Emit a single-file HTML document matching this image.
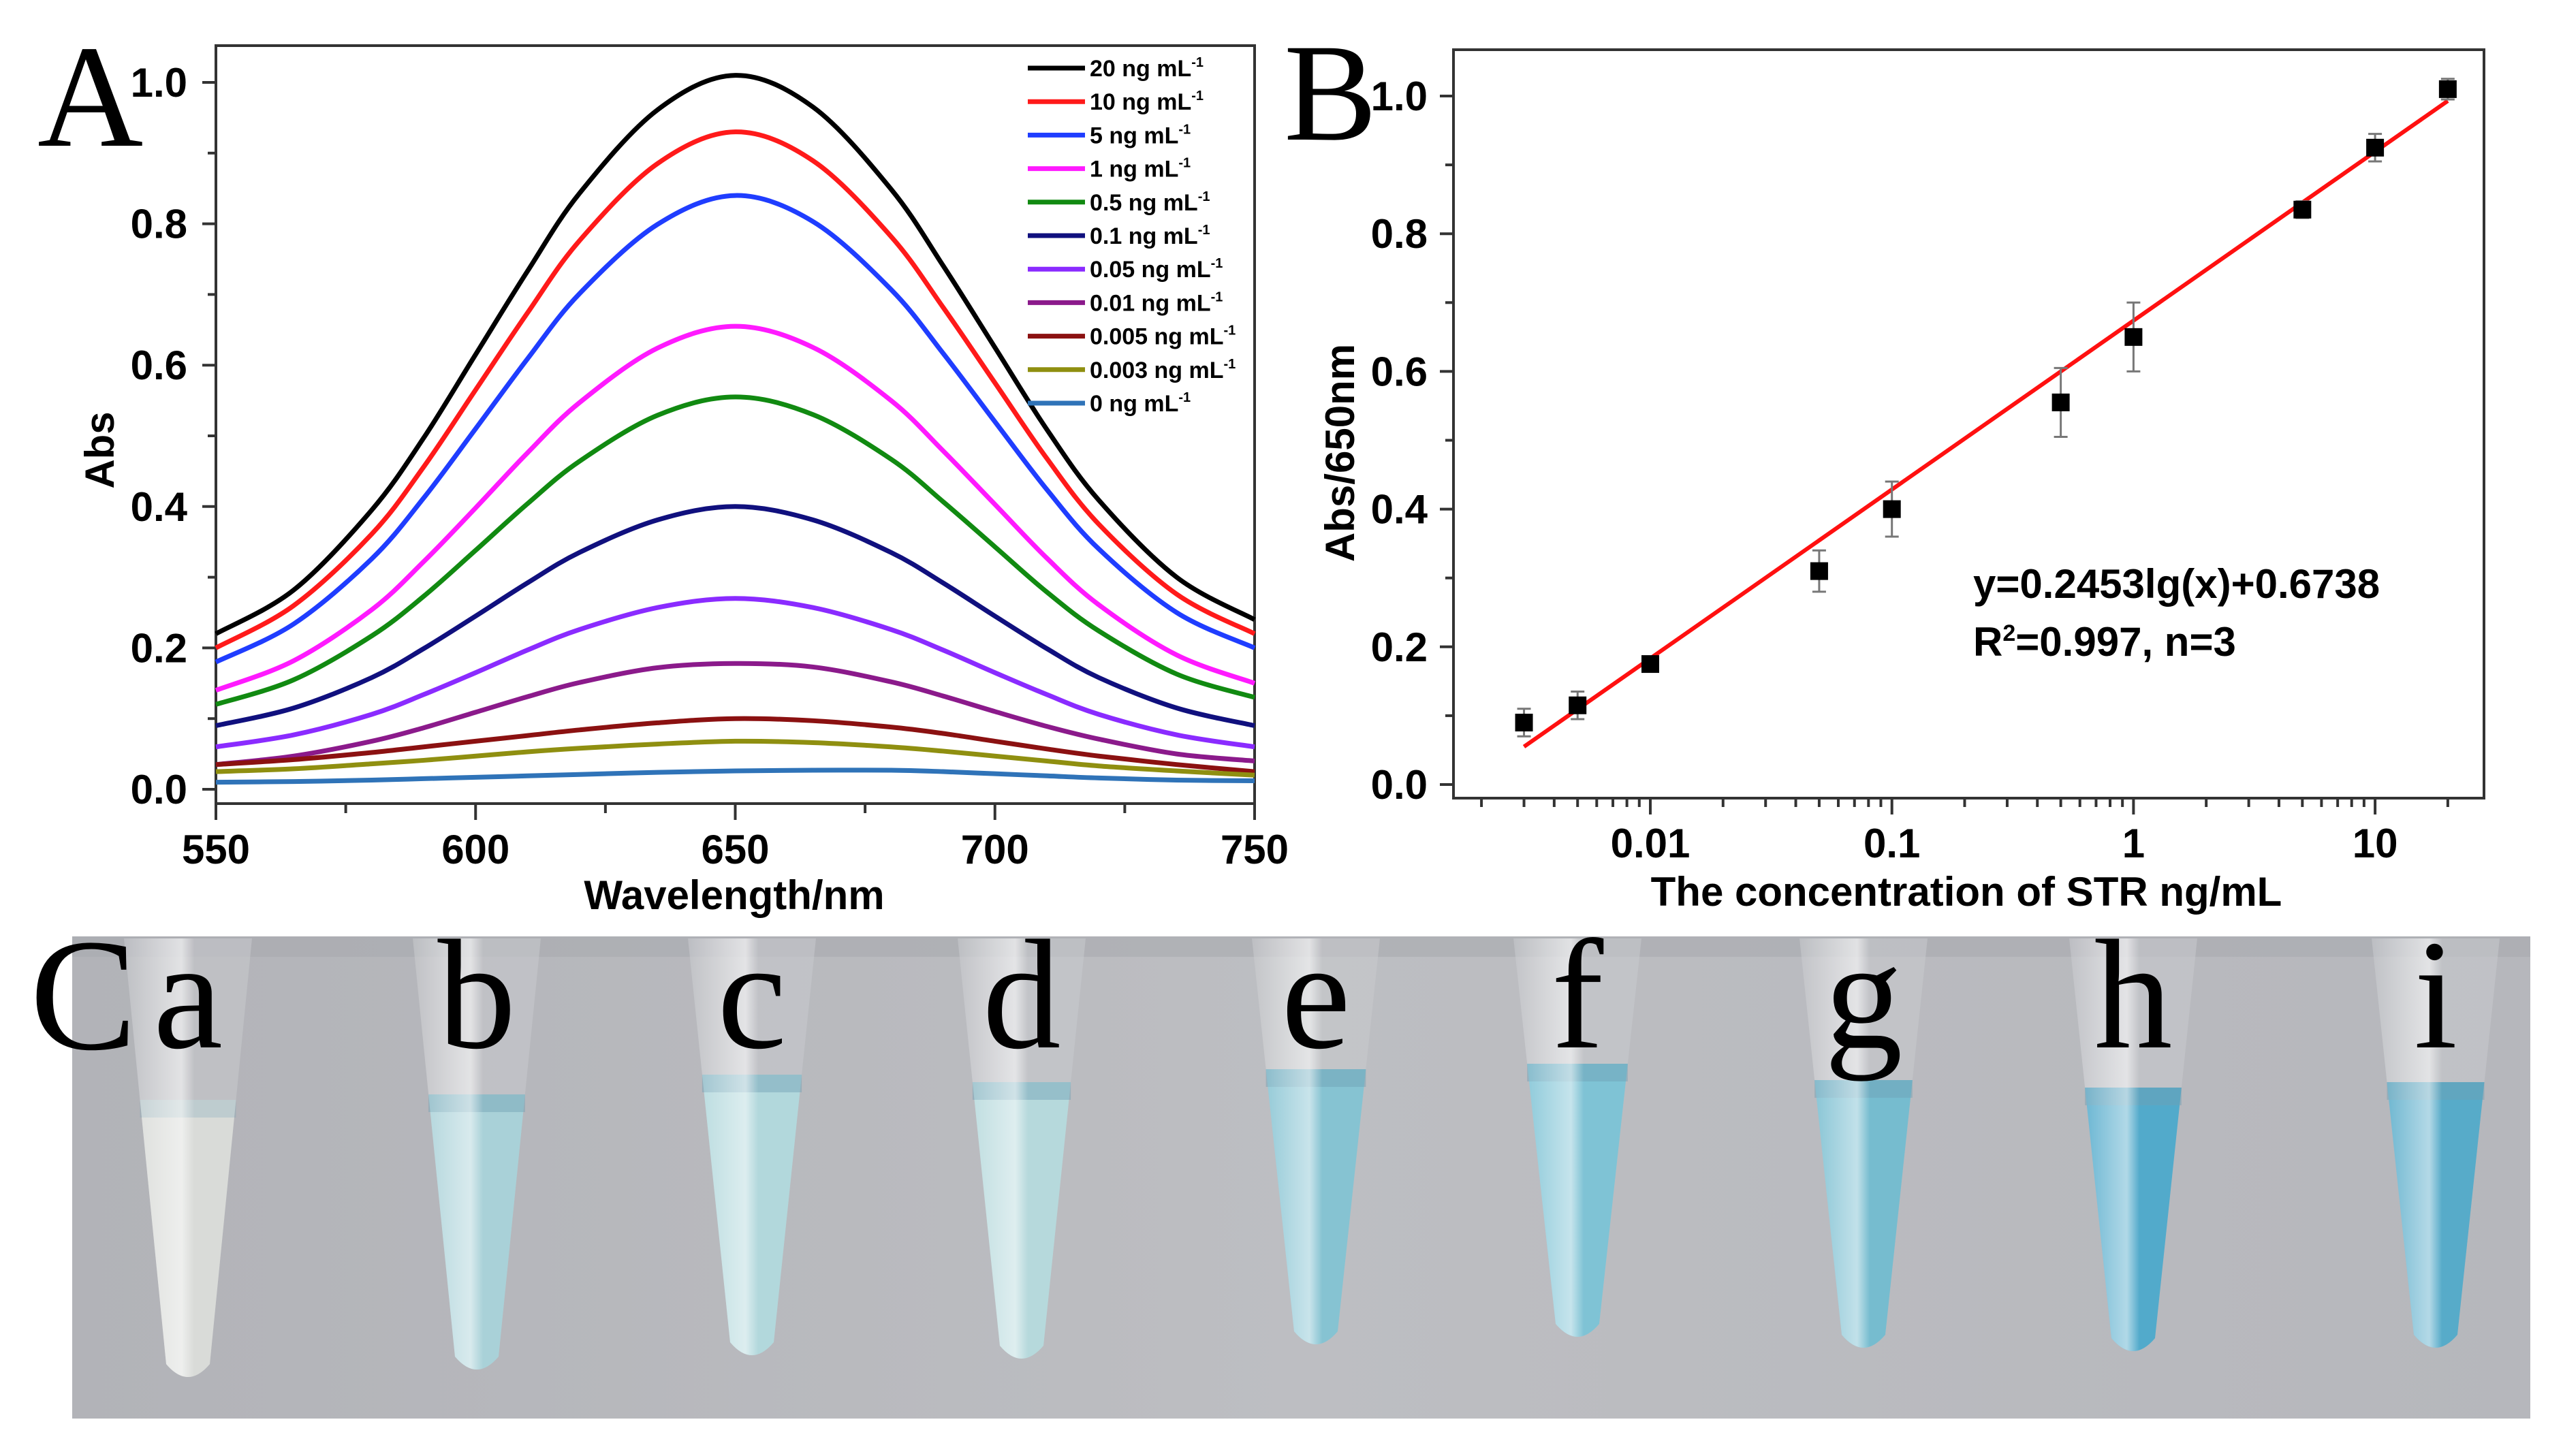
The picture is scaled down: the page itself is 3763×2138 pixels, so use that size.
<!DOCTYPE html>
<html><head><meta charset="utf-8"><style>
html,body{margin:0;padding:0;background:#fff;}
svg{display:block;}
.tk{font-family:"Liberation Sans",sans-serif;font-weight:bold;font-size:60px;}
.lg{font-family:"Liberation Sans",sans-serif;font-weight:bold;font-size:34px;}
.pl{font-family:"Liberation Serif",serif;}
</style></head><body>
<svg id="fig" width="3763" height="2138" viewBox="0 0 3763 2138" xmlns="http://www.w3.org/2000/svg">
<defs>
<linearGradient id="bg" x1="0" y1="0" x2="1" y2="0">
<stop offset="0" stop-color="#b2b3b8"/><stop offset="0.5" stop-color="#bdbec2"/><stop offset="1" stop-color="#b6b7bc"/></linearGradient>
<linearGradient id="shine" x1="0" y1="0" x2="1" y2="0">
<stop offset="0" stop-color="#fff" stop-opacity="0"/><stop offset="0.45" stop-color="#fff" stop-opacity="0.55"/><stop offset="0.55" stop-color="#fff" stop-opacity="0"/><stop offset="1" stop-color="#fff" stop-opacity="0"/></linearGradient>
</defs>
<g id="panelA"></g>
<g id="panelB"></g>
<g id="panelC"></g>
</svg>
<script>
// ---------- Panel A data ----------
const wavelengths = [550,565,580,590,600,610,620,635,650,665,680,690,700,710,720,735,750];
const seriesLabels = ["20 ng mL","10 ng mL","5 ng mL","1 ng mL","0.5 ng mL","0.1 ng mL","0.05 ng mL","0.01 ng mL","0.005 ng mL","0.003 ng mL","0 ng mL"];
const s20   = [0.22,0.282,0.395,0.497,0.615,0.733,0.843,0.961,1.01,0.965,0.849,0.741,0.625,0.509,0.409,0.30,0.24];
const s10   = [0.20,0.26,0.361,0.456,0.565,0.674,0.776,0.885,0.93,0.889,0.782,0.682,0.575,0.468,0.375,0.276,0.22];
const s5    = [0.18,0.234,0.326,0.412,0.51,0.609,0.701,0.799,0.84,0.803,0.707,0.617,0.52,0.424,0.34,0.25,0.20];
const s1    = [0.14,0.182,0.254,0.322,0.398,0.476,0.547,0.624,0.655,0.625,0.55,0.479,0.403,0.327,0.261,0.19,0.15];
const s05   = [0.12,0.155,0.217,0.273,0.338,0.404,0.464,0.529,0.555,0.53,0.467,0.407,0.343,0.279,0.224,0.163,0.13];
const s01   = [0.09,0.115,0.158,0.199,0.245,0.292,0.335,0.381,0.40,0.381,0.335,0.292,0.245,0.199,0.158,0.115,0.09];
const s005  = [0.06,0.077,0.106,0.134,0.165,0.197,0.226,0.257,0.27,0.257,0.226,0.197,0.165,0.134,0.106,0.077,0.06];
const s001  = [0.035,0.047,0.068,0.087,0.109,0.131,0.151,0.172,0.178,0.173,0.152,0.132,0.11,0.089,0.071,0.05,0.04];
const s0005 = [0.035,0.042,0.052,0.06,0.068,0.076,0.084,0.094,0.10,0.097,0.088,0.079,0.068,0.057,0.047,0.035,0.025];
const s0003 = [0.025,0.029,0.036,0.041,0.047,0.053,0.058,0.064,0.068,0.066,0.06,0.054,0.047,0.04,0.033,0.026,0.02];
const s0    = [0.01,0.011,0.013,0.015,0.017,0.019,0.021,0.024,0.026,0.027,0.027,0.025,0.022,0.019,0.016,0.013,0.012];
const xTicksA = [550,600,650,700,750];
const yTicksA = [0.0,0.2,0.4,0.6,0.8,1.0];
// ---------- Panel B data ----------
const concentrations = [0.003,0.005,0.01,0.05,0.1,0.5,1,5,10,20];
const absorbance650 = [0.09,0.115,0.175,0.31,0.40,0.555,0.65,0.835,0.925,1.01];
const errorBars = [0.02,0.02,0.01,0.03,0.04,0.05,0.05,0.012,0.02,0.015];
const fitSlope = [0.2453];
const fitIntercept = [0.6738];
const xTickLabelsB = ["0.01","0.1","1","10"];
const xTickValuesB = [0.01,0.1,1,10];
const yTicksB = [0.0,0.2,0.4,0.6,0.8,1.0];
// ---------- Panel C data ----------
const tubeLabels = ["a","b","c","d","e","f","g","h","i"];

const NS="http://www.w3.org/2000/svg";
function mk(parent,tag,attrs,text){const e=document.createElementNS(NS,tag);for(const k in attrs)e.setAttribute(k,attrs[k]);if(text!==undefined)e.textContent=text;parent.appendChild(e);return e;}

// ===== Panel A =====
const A=document.getElementById('panelA');
const aL=317,aR=1842,aT=67,aB=1180,aY0=1159,aY1=121;
const xA=v=>aL+(v-550)/200*(aR-aL);
const yA=v=>aY0-v*(aY0-aY1);
let t=mk(A,'text',{x:55,y:214,'font-size':215,class:'pl'},'A');


let fr=mk(A,'rect',{x:aL,y:aT,width:aR-aL,height:aB-aT,fill:'none',stroke:'#333',"stroke-width":4});


xTicksA.forEach((v,i)=>{
  mk(A,'line',{x1:xA(v),x2:xA(v),y1:aB,y2:aB+24,stroke:'#333','stroke-width':4});
  if(i<xTicksA.length-1) mk(A,'line',{x1:xA(v+25),x2:xA(v+25),y1:aB,y2:aB+14,stroke:'#333','stroke-width':4});
  const l=mk(A,'text',{x:xA(v),y:1268,'text-anchor':'middle',class:'tk'},String(v));
  
  
});
yTicksA.forEach((v,i)=>{
  mk(A,'line',{x1:aL-20,x2:aL,y1:yA(v),y2:yA(v),stroke:'#333','stroke-width':4});
  if(i<yTicksA.length-1) mk(A,'line',{x1:aL-12,x2:aL,y1:yA(v+0.1),y2:yA(v+0.1),stroke:'#333','stroke-width':4});
  const l=mk(A,'text',{x:275,y:yA(v)+21,'text-anchor':'end',class:'tk'},v.toFixed(1));
  
  
});
t=mk(A,'text',{x:1078,y:1335,'text-anchor':'middle',class:'tk'},'Wavelength/nm');


t=mk(A,'text',{x:0,y:0,'text-anchor':'middle',class:'tk',transform:'translate(167,661) rotate(-90)'},'Abs');


const allSeries=[s20,s10,s5,s1,s05,s01,s005,s001,s0005,s0003,s0];
const colors=["#000000","#ff1a1a","#1f3dff","#ff1aff","#118a11","#10107e","#8a2bff","#8b1a8b","#8b1111","#8f8f10","#2f73b8"];
function smoothPath(pts){let d=`M${pts[0][0]},${pts[0][1]}`;for(let i=0;i<pts.length-1;i++){const p0=pts[Math.max(0,i-1)],p1=pts[i],p2=pts[i+1],p3=pts[Math.min(pts.length-1,i+2)];const c1=[p1[0]+(p2[0]-p0[0])/6,p1[1]+(p2[1]-p0[1])/6],c2=[p2[0]-(p3[0]-p1[0])/6,p2[1]-(p3[1]-p1[1])/6];d+=` C${c1[0]},${c1[1]} ${c2[0]},${c2[1]} ${p2[0]},${p2[1]}`;}return d;}
allSeries.forEach((s,k)=>{
  const pts=s.map((v,i)=>[xA(wavelengths[i]),yA(v)]);
  const p=mk(A,'path',{d:smoothPath(pts),fill:'none',stroke:colors[k],'stroke-width':7});
  
  
});
seriesLabels.forEach((lab,k)=>{
  const y=100+k*49.2;
  const ln=mk(A,'line',{x1:1509,x2:1593,y1:y,y2:y,stroke:colors[k],'stroke-width':7});
  
  
  const tx=mk(A,'text',{x:1600,y:y+12,class:'lg'});
  
  
  tx.appendChild(document.createTextNode(lab));
  mk(tx,'tspan',{dy:-14,'font-size':20},'-1');
});

// ===== Panel B =====
const B=document.getElementById('panelB');
const bL=2134,bR=3647,bT=73,bB=1172,bY0=1152,bY1=141,dec=354.7,x001=2423;
const xB=v=>x001+(Math.log10(v)+2)*dec;
const yB=v=>bY0-v*(bY0-bY1);
t=mk(B,'text',{x:1885,y:205,'font-size':205,class:'pl'},'B');


fr=mk(B,'rect',{x:bL,y:bT,width:bR-bL,height:bB-bT,fill:'none',stroke:'#333','stroke-width':4});


for(let e=-3;e<=1;e++){for(let m=1;m<10;m++){const v=m*Math.pow(10,e);const x=xB(v);if(x<bL||x>bR)continue;mk(B,'line',{x1:x,x2:x,y1:bB,y2:bB+(m===1?24:13),stroke:'#333','stroke-width':4});}}
xTickValuesB.forEach((v,i)=>{
  const l=mk(B,'text',{x:xB(v),y:1259,'text-anchor':'middle',class:'tk'},xTickLabelsB[i]);
  
  
});
yTicksB.forEach((v,i)=>{
  mk(B,'line',{x1:bL-20,x2:bL,y1:yB(v),y2:yB(v),stroke:'#333','stroke-width':4});
  if(i<yTicksB.length-1) mk(B,'line',{x1:bL-12,x2:bL,y1:yB(v+0.1),y2:yB(v+0.1),stroke:'#333','stroke-width':4});
  const l=mk(B,'text',{x:2096,y:yB(v)+21,'text-anchor':'end',class:'tk'},v.toFixed(1));
  
  
});
t=mk(B,'text',{x:2887,y:1330,'text-anchor':'middle',class:'tk'},'The concentration of STR ng/mL');


t=mk(B,'text',{x:0,y:0,'text-anchor':'middle',class:'tk',transform:'translate(1988,665) rotate(-90)'},'Abs/650nm');


const xs0=concentrations[0],xs1=concentrations[concentrations.length-1];
const fit=mk(B,'line',{x1:xB(xs0),y1:yB(fitSlope[0]*Math.log10(xs0)+fitIntercept[0]),x2:xB(xs1),y2:yB(fitSlope[0]*Math.log10(xs1)+fitIntercept[0]),stroke:'#ff1010','stroke-width':6});


concentrations.forEach((c,i)=>{
  const x=xB(c),y=yB(absorbance650[i]),e=errorBars[i];
  const g=mk(B,'g',{});
  
  
  mk(g,'line',{x1:x,x2:x,y1:yB(absorbance650[i]+e),y2:yB(absorbance650[i]-e),stroke:'#777','stroke-width':3});
  mk(g,'line',{x1:x-10,x2:x+10,y1:yB(absorbance650[i]+e),y2:yB(absorbance650[i]+e),stroke:'#777','stroke-width':3});
  mk(g,'line',{x1:x-10,x2:x+10,y1:yB(absorbance650[i]-e),y2:yB(absorbance650[i]-e),stroke:'#777','stroke-width':3});
  mk(g,'rect',{x:x-13,y:y-13,width:26,height:26,fill:'#000'});
});
t=mk(B,'text',{x:2897,y:878,class:'tk'},'y=0.2453lg(x)+0.6738');


t=mk(B,'text',{x:2897,y:963,class:'tk'});


t.appendChild(document.createTextNode('R'));mk(t,'tspan',{dy:-22,'font-size':34},'2');mk(t,'tspan',{dy:22},'=0.997, n=3');

// ===== Panel C =====
const C=document.getElementById('panelC');
const bgr=mk(C,'rect',{x:106,y:1375,width:3609,height:708,fill:'url(#bg)'});


mk(C,'rect',{x:106,y:1375,width:3609,height:30,fill:'#a9aaaf',opacity:0.6});
const tubeX=[276,700,1104,1500,1932,2316,2736,3132,3576];
const liqTop=[1615,1607,1578,1589,1570,1562,1586,1597,1589];
const tipY=[2027,2016,1995,2000,1979,1968,1984,1989,1984];
const liqCol=["#d9dbd8","#a9d1d8","#b2d8dc","#b6d9dc","#86c3d2","#7fc3d5","#76bccf","#52aacb","#57abc9"];
tubeX.forEach((cx,i)=>{
  const g=mk(C,'g',{});
  
  
  const top=1378,w=94,tw=32,ty=tipY[i];
  mk(g,'path',{d:`M${cx-w},${top} L${cx+w},${top} L${cx+tw},${ty-24} Q${cx},${ty+14} ${cx-tw},${ty-24} Z`,fill:'#c9cacd',opacity:0.55});
  const lt=liqTop[i];const f=(lt-top)/(ty-24-top);const lw=w-(w-tw)*f;
  mk(g,'path',{d:`M${cx-lw},${lt} L${cx+lw},${lt} L${cx+tw},${ty-24} Q${cx},${ty+14} ${cx-tw},${ty-24} Z`,fill:liqCol[i]});
  mk(g,'rect',{x:cx-lw,y:lt,width:2*lw,height:26,fill:'#6f9fb3',opacity:i===0?0.25:0.45});
  mk(g,'path',{d:`M${cx-w},${top} L${cx+w},${top} L${cx+tw},${ty-24} Q${cx},${ty+14} ${cx-tw},${ty-24} Z`,fill:'url(#shine)'});
  const l=mk(C,'text',{x:cx,y:1538,'text-anchor':'middle','font-size':230,class:'pl'},tubeLabels[i]);
  
  
});
t=mk(C,'text',{x:44,y:1540,'font-size':235,class:'pl'},'C');


</script>
</body></html>
